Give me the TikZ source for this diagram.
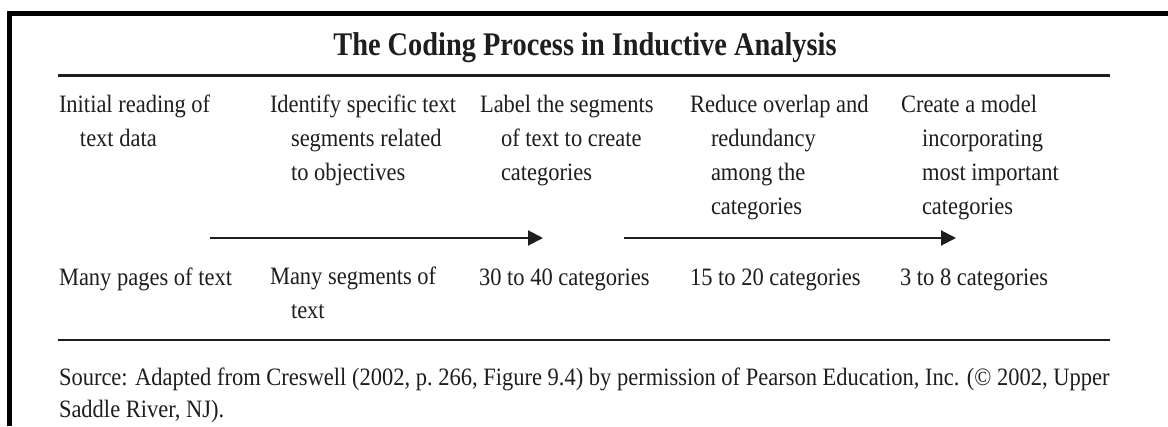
\documentclass[tikz,border=0pt]{standalone}
\usepackage{fontspec}
\setmainfont[FakeStretch=0.9]{Liberation Serif}
\newfontfamily\titlefont[FakeStretch=0.86]{Liberation Serif}
\usetikzlibrary{arrows.meta}
\definecolor{ink}{HTML}{1E1E1E}
\tikzset{
  cell/.style={anchor=base west, inner sep=0pt, outer sep=0pt, align=left, text=ink,
    font=\fontsize{25}{34}\selectfont},
  rule/.style={draw=ink},
  flow/.style={draw=ink, line width=2pt, -{Triangle[length=15pt,width=15pt]}},
  border/.style={draw=black, line width=5pt},
}
\newcommand{\ind}{\hspace*{21pt}}
\begin{document}
\begin{tikzpicture}[x=1pt,y=-1pt]
\useasboundingbox (0,0) rectangle (1168,426);
\fill[white] (0,0) rectangle (1168,426);
% frame
\coordinate (fb) at (9.5,426);
\coordinate (fc) at (9.5,13.5);
\coordinate (fr) at (1168,13.5);
\draw[border] (fb) -- (fc) -- (fr);
% title
\node[anchor=base, inner sep=0pt, text=ink, font=\titlefont\fontsize{33}{36}\selectfont\bfseries] (title) at (585,55) {The Coding Process in Inductive Analysis};
% rules
\coordinate (r1a) at (58,75.5); \coordinate (r1b) at (1110,75.5);
\draw[rule, line width=3pt] (r1a) -- (r1b);
\coordinate (r2a) at (58,340); \coordinate (r2b) at (1110,340);
\draw[rule, line width=2pt] (r2a) -- (r2b);
% step descriptions (base = last line's baseline)
\node[cell] (s1) at (59,146) {Initial reading of\\\ind text data};
\node[cell] (s2) at (270,180) {Identify specific text\\\ind segments related\\\ind to objectives};
\node[cell] (s3) at (480,180) {Label the segments\\\ind of text to create\\\ind categories};
\node[cell] (s4) at (690,214) {Reduce overlap and\\\ind redundancy\\\ind among the\\\ind categories};
\node[cell] (s5) at (901,214) {Create a model\\\ind incorporating\\\ind most important\\\ind categories};
% arrows
\coordinate (a1s) at (210,238); \coordinate (a1e) at (543,238);
\coordinate (a2s) at (624,238); \coordinate (a2e) at (956,238);
\draw[flow] (a1s) -- (a1e);
\draw[flow] (a2s) -- (a2e);
% quantities
\node[cell] (q1) at (59,285) {Many pages of text};
\node[cell] (q2) at (270,318) {Many segments of\\\ind text};
\node[cell] (q3) at (479,285) {30 to 40 categories};
\node[cell] (q4) at (690,285) {15 to 20 categories};
\node[cell] (q5) at (900,285) {3 to 8 categories};
% source
\node[cell, font=\fontsize{25}{32}\selectfont] (src) at (59,417) {Source: Adapted from Creswell (2002, p.\ 266, Figure 9.4) by permission of Pearson Education, Inc. (\textcopyright\ 2002, Upper\\Saddle River, NJ).};
\end{tikzpicture}
\end{document}
